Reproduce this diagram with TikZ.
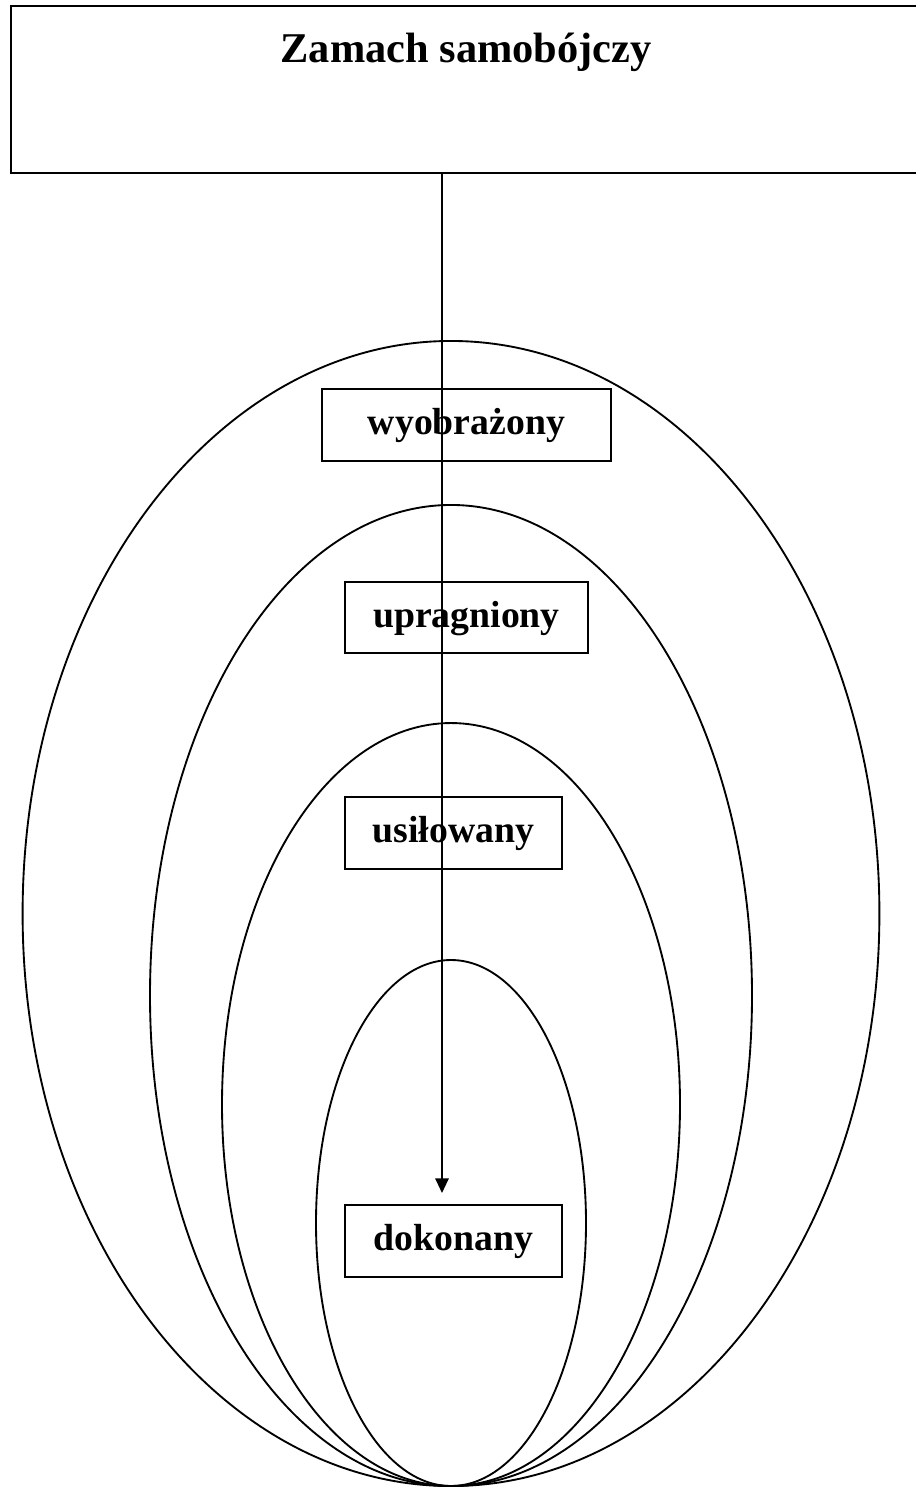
\documentclass[tikz,border=0pt]{standalone}
\usepackage{fontspec}
\setmainfont{Liberation Serif}
\usetikzlibrary{arrows.meta}
\begin{document}
\begin{tikzpicture}[x=0.75pt,y=-0.75pt,
  lbl/.style={draw,line width=1.3pt,rectangle,inner sep=0pt,text height=19.5pt,text depth=5pt,font=\bfseries\fontsize{28.3}{30}\selectfont},
  ell/.style={line width=1.4pt},
  conn/.style={line width=1.5pt,-{Triangle[length=11pt,width=10pt]}}]
\useasboundingbox (0,0) rectangle (915,1488);
% top box
\node[draw,line width=1.8pt,rectangle,inner sep=0pt,minimum width=690pt,minimum height=125.25pt,anchor=north west] (top) at (9.5,5) {};
\node[font=\bfseries\fontsize{31.8}{34}\selectfont,anchor=base] (title) at (466,63) {Zamach samobójczy};
% ellipses
\draw[ell] (451,913.5) ellipse [x radius=321.3pt, y radius=429.4pt];
\draw[ell] (451,995.5) ellipse [x radius=225.75pt, y radius=367.9pt];
\draw[ell] (451,1104.5) ellipse [x radius=171.75pt, y radius=286.1pt];
\draw[ell] (451,1223) ellipse [x radius=101.25pt, y radius=197.25pt];
% labels
\node[lbl,minimum width=216.75pt,minimum height=54pt] (w) at (466.5,425) {wyobrażony};
\node[lbl,minimum width=182.25pt,minimum height=53.25pt] (u) at (466.5,617.5) {upragniony};
\node[lbl,minimum width=162.75pt,minimum height=54pt] (s) at (453.5,833) {usiłowany};
\node[lbl,minimum width=162.75pt,minimum height=54pt] (d) at (453.5,1241) {dokonany};
% arrow
\coordinate (a0) at (442,172);
\coordinate (a1) at (442,1193);
\draw[conn] (a0) -- (a1);
\end{tikzpicture}
\end{document}
